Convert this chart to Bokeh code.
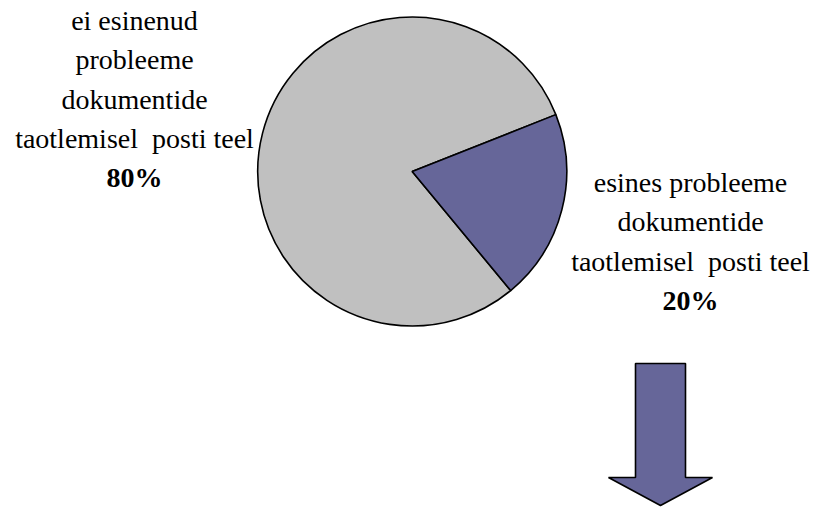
import math
from bokeh.plotting import figure
from bokeh.models import Range1d
from bokeh.core.properties import value
from bokeh.embed import file_html
from bokeh.resources import INLINE

# Survey shares (percent)
categories = [
    "ei esinenud probleeme dokumentide taotlemisel  posti teel",
    "esines probleeme dokumentide taotlemisel  posti teel",
]
shares = [80, 20]
colors = ["#C0C0C0", "#666699"]
label_lines = [
    ["ei esinenud", "probleeme", "dokumentide", "taotlemisel\u00a0\u00a0posti teel"],
    ["esines probleeme", "dokumentide", "taotlemisel\u00a0\u00a0posti teel"],
]

W, H = 817, 515
p = figure(width=W, height=H, output_backend="svg", toolbar_location=None,
           x_range=Range1d(0, W), y_range=Range1d(0, H), min_border=0)
p.axis.visible = False
p.grid.visible = False
p.outline_line_color = None
p.background_fill_color = "white"
p.border_fill_color = "white"

FONT = value("Liberation Serif")
SIZE = "28px"

# Pie geometry
cx, cy, r = 411.7, H - 171, 154.5
start = math.radians(21.6)
total = sum(shares)
starts, ends = [], []
a = start
for s in shares:
    starts.append(a)
    a += 2 * math.pi * s / total
    ends.append(a)

p.wedge(x=[cx] * len(shares), y=[cy] * len(shares), radius=r,
        start_angle=starts, end_angle=ends, fill_color=colors,
        line_color="black", line_width=1.6)

# Labels (first line position, then one line per step)
label_pos = [(134, H - 20), (690, H - 182)]
spacing = 39.3
for (lx, ly), lines, s in zip(label_pos, label_lines, shares):
    ys = [ly - i * spacing for i in range(len(lines))]
    p.text(x=[lx] * len(lines), y=ys, text=lines, text_font=FONT,
           text_font_size=SIZE, text_align="center", text_baseline="alphabetic",
           text_color="black")
    p.text(x=[lx], y=[ly - len(lines) * spacing], text=[f"{s}%"], text_font=FONT,
           text_font_size=SIZE, text_font_style="bold", text_align="center",
           text_baseline="alphabetic", text_color="black")

# Down arrow
ax_l, ax_r = 635, 685
a_top, a_wing = H - 363, H - 477
h_l, h_r = 608, 712
tip = H - 505
p.patch(x=[ax_l, ax_r, ax_r, h_r, (h_l + h_r) / 2, h_l, ax_l],
        y=[a_top, a_top, a_wing, a_wing, tip, a_wing, a_wing],
        fill_color="#666699", line_color="black", line_width=1.6)

open("out.html", "w").write(file_html(p, INLINE))
